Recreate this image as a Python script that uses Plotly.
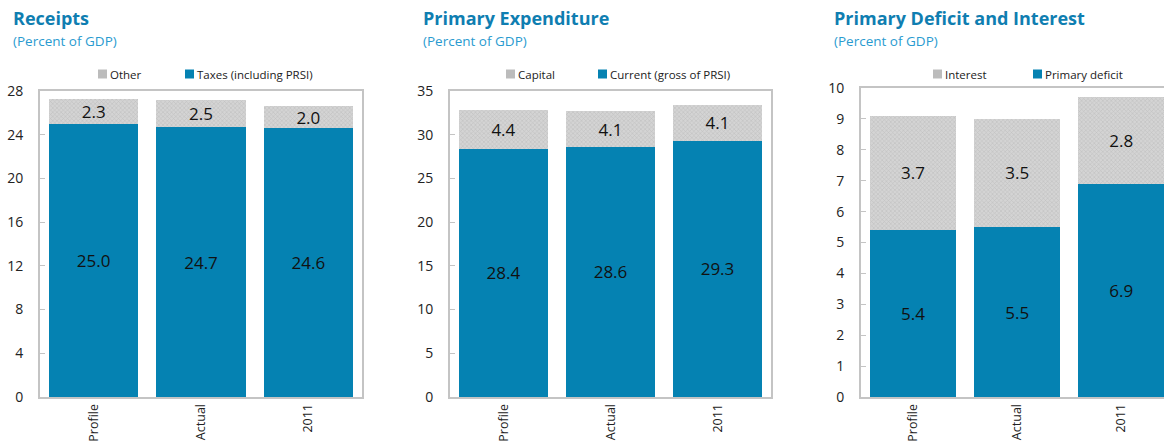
import plotly.graph_objects as go

# Categories shared by all three panels
categories = ["Profile", "Actual", "2011"]

# Receipts (percent of GDP)
receipts_taxes = [25.0, 24.7, 24.6]
receipts_other = [2.3, 2.5, 2.0]

# Primary expenditure (percent of GDP)
expend_current = [28.4, 28.6, 29.3]
expend_capital = [4.4, 4.1, 4.1]

# Primary deficit and interest (percent of GDP)
deficit_primary = [5.4, 5.5, 6.9]
deficit_interest = [3.7, 3.5, 2.8]

panel_titles = ["Receipts", "Primary Expenditure", "Primary Deficit and Interest"]
subtitle = "(Percent of GDP)"

BLUE = "#0582B2"
GREY = "#d0d0d0"
GREY_SWATCH = "#bcbcbc"
GREY_PATTERN = dict(shape="x", fgcolor="#aaaaaa", bgcolor="#d4d4d4", size=3, solidity=0.35)
FONT = "Open Sans, Noto Sans, sans-serif"
AXIS_GREY = "#c4c4c4"

W, H = 1164, 447


def px_x(v):
    return v / W


def px_y(v):
    return 1 - v / H


panels = [
    dict(bottom=receipts_taxes, top=receipts_other,
         names=("Taxes (including PRSI)", "Other"),
         xdom=(40, 362), ytop=91, yrange=(0, 28), dtick=4, xrange=None,
         key_x=(98, 185), title_x=11),
    dict(bottom=expend_current, top=expend_capital,
         names=("Current (gross of PRSI)", "Capital"),
         xdom=(450, 771), ytop=91, yrange=(0, 35), dtick=5, xrange=None,
         key_x=(506, 598), title_x=421),
    dict(bottom=deficit_primary, top=deficit_interest,
         names=("Primary deficit", "Interest"),
         xdom=(861, 1164), ytop=88, yrange=(0, 10), dtick=1, xrange=(-0.5, 2.41),
         key_x=(933, 1033), title_x=832),
]

fig = go.Figure()
annotations = []
shapes = []
layout_axes = {}

for i, p in enumerate(panels, start=1):
    sfx = "" if i == 1 else str(i)
    xa, ya = "x" + sfx, "y" + sfx

    fig.add_trace(go.Bar(
        x=categories, y=p["bottom"], name=p["names"][0],
        marker=dict(color=BLUE, line=dict(width=0)),
        text=[f"{v:.1f}" for v in p["bottom"]], textposition="inside",
        insidetextanchor="middle", textangle=0,
        textfont=dict(size=17, color="#111111", family=FONT),
        xaxis=xa, yaxis=ya, showlegend=False,
    ))
    fig.add_trace(go.Bar(
        x=categories, y=p["top"], name=p["names"][1],
        marker=dict(color=GREY, pattern=GREY_PATTERN, line=dict(width=0)),
        text=[f"{v:.1f}" for v in p["top"]], textposition="inside",
        insidetextanchor="middle", textangle=0,
        textfont=dict(size=17, color="#111111", family=FONT),
        xaxis=xa, yaxis=ya, showlegend=False,
    ))

    last = i == 3
    layout_axes["xaxis" + sfx] = dict(
        domain=[px_x(p["xdom"][0]), min(1.0, px_x(p["xdom"][1]))],
        anchor=ya, type="category", automargin=False,
        range=list(p["xrange"]) if p["xrange"] else [-0.5, 2.5],
        showline=True, linecolor=AXIS_GREY, linewidth=2,
        mirror=True, ticks="", tickangle=-90,
        tickfont=dict(size=12.5, color="#222222", family=FONT),
        showgrid=False, zeroline=False, fixedrange=True,
    )
    layout_axes["yaxis" + sfx] = dict(
        domain=[px_y(397), px_y(p["ytop"])], anchor=xa, automargin=False,
        range=list(p["yrange"]), dtick=p["dtick"], tick0=0,
        showline=True, linecolor=AXIS_GREY, linewidth=2,
        mirror=not last, ticks="inside", ticklen=5, tickcolor=AXIS_GREY, tickwidth=1,
        ticklabelstandoff=12,
        tickfont=dict(size=14, color="#222222", family=FONT),
        showgrid=False, zeroline=False, fixedrange=True,
    )

    # Key above each panel: upper segment first, then the lower one
    for name, color, x0 in ((p["names"][1], GREY_SWATCH, p["key_x"][0]),
                            (p["names"][0], BLUE, p["key_x"][1])):
        shapes.append(dict(
            type="rect", xref="paper", yref="paper",
            x0=px_x(x0), x1=px_x(x0 + 9), y0=px_y(78.5), y1=px_y(69.5),
            fillcolor=color, line=dict(width=0),
        ))
        annotations.append(dict(
            text=name, xref="paper", yref="paper",
            x=px_x(x0 + 11), y=px_y(74), xanchor="left", yanchor="middle",
            showarrow=False, borderpad=0,
            font=dict(size=11.5, color="#222222", family=FONT),
        ))

    annotations.append(dict(
        text=f"<b>{panel_titles[i - 1]}</b>", xref="paper", yref="paper",
        x=px_x(p["title_x"]), y=px_y(18), xanchor="left", yanchor="middle",
        showarrow=False, font=dict(size=18, color="#0F7EB1", family=FONT),
    ))
    annotations.append(dict(
        text=subtitle, xref="paper", yref="paper",
        x=px_x(p["title_x"]), y=px_y(41), xanchor="left", yanchor="middle",
        showarrow=False, font=dict(size=13.5, color="#2A9BD0", family=FONT),
    ))

fig.update_layout(
    width=W, height=H, margin=dict(l=0, r=0, t=0, b=0, autoexpand=False),
    barmode="stack", bargap=0.17,
    plot_bgcolor="white", paper_bgcolor="white",
    uniformtext=dict(mode="show", minsize=10),
    annotations=annotations, shapes=shapes, showlegend=False,
    **layout_axes,
)

fig.write_html("out.html", config={"displayModeBar": False})
